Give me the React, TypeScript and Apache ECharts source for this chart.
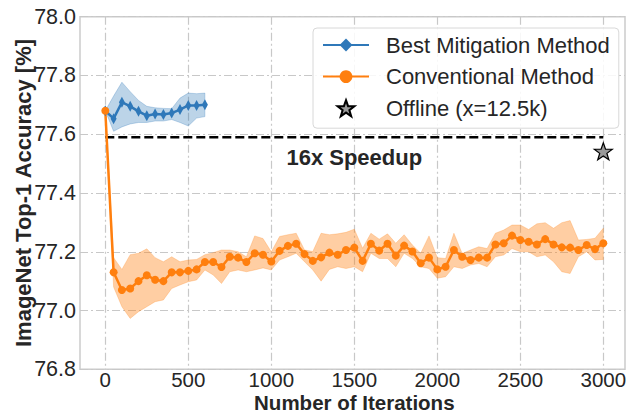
import React, { useEffect, useRef } from "react";
import * as echarts from "echarts";

const iters = [
  0, 50, 100, 150, 200, 250, 300, 350, 400, 450, 500, 550, 600, 650, 700, 750, 800, 850, 900, 950,
  1000, 1050, 1100, 1150, 1200, 1250, 1300, 1350, 1400, 1450, 1500, 1550, 1600, 1650, 1700, 1750,
  1800, 1850, 1900, 1950, 2000, 2050, 2100, 2150, 2200, 2250, 2300, 2350, 2400, 2450, 2500, 2550,
  2600, 2650, 2700, 2750, 2800, 2850, 2900, 2950, 3000,
];

const convMean = [
  77.68, 77.13, 77.07, 77.075, 77.1, 77.12, 77.105, 77.1, 77.13, 77.13, 77.135, 77.14, 77.165,
  77.165, 77.148, 77.183, 77.18, 77.165, 77.195, 77.19, 77.167, 77.203, 77.22, 77.227, 77.192,
  77.169, 77.181, 77.197, 77.19, 77.206, 77.214, 77.169, 77.227, 77.204, 77.227, 77.187, 77.221,
  77.201, 77.161, 77.18, 77.14, 77.149, 77.206, 77.183, 77.172, 77.18, 77.18, 77.225, 77.229,
  77.255, 77.24, 77.234, 77.225, 77.243, 77.225, 77.215, 77.214, 77.206, 77.223, 77.209, 77.229,
];
const convUpper = [
  77.68, 77.18, 77.14, 77.19, 77.195, 77.21, 77.18, 77.166, 77.183, 77.166, 77.172, 77.174, 77.19,
  77.197, 77.206, 77.206, 77.2, 77.183, 77.254, 77.245, 77.2, 77.252, 77.258, 77.263, 77.206,
  77.201, 77.263, 77.258, 77.261, 77.266, 77.277, 77.212, 77.263, 77.243, 77.261, 77.229, 77.258,
  77.223, 77.195, 77.254, 77.18, 77.177, 77.263, 77.194, 77.206, 77.217, 77.211, 77.263, 77.274,
  77.291, 77.291, 77.276, 77.295, 77.299, 77.28, 77.299, 77.306, 77.24, 77.242, 77.246, 77.28,
];
const convLower = [
  77.68, 77.08, 77.013, 76.973, 76.996, 77.013, 77.03, 77.036, 77.075, 77.087, 77.098, 77.104,
  77.138, 77.121, 77.092, 77.132, 77.138, 77.132, 77.138, 77.145, 77.138, 77.172, 77.183, 77.195,
  77.166, 77.138, 77.1, 77.14, 77.149, 77.143, 77.149, 77.132, 77.195, 77.177, 77.177, 77.149,
  77.195, 77.177, 77.149, 77.143, 77.11, 77.115, 77.149, 77.143, 77.155, 77.16, 77.149, 77.183,
  77.189, 77.211, 77.2, 77.2, 77.183, 77.189, 77.166, 77.132, 77.126, 77.183, 77.2, 77.172, 77.174,
];

const bestIters = [0, 50, 100, 150, 200, 250, 300, 350, 400, 450, 500, 550, 600];
const bestMean = [77.68, 77.653, 77.709, 77.695, 77.678, 77.663, 77.669, 77.667, 77.672, 77.684, 77.698, 77.698, 77.7];
const bestUpper = [77.68, 77.73, 77.777, 77.745, 77.715, 77.695, 77.69, 77.688, 77.687, 77.723, 77.74, 77.738, 77.74];
const bestLower = [77.68, 77.61, 77.625, 77.635, 77.64, 77.64, 77.645, 77.645, 77.65, 77.64, 77.628, 77.655, 77.66];

const offlinePoint = [3000, 77.542];
const speedupLine = [[0, 77.59], [3000, 77.59]];
const speedupLabel = [1500, 77.522];
const speedupText = "16x Speedup";

const xTickMin = 0;
const xTickMax = 3000;
const xTickStep = 500;
const yMin = 76.8;
const yMax = 78.0;
const yStep = 0.2;

const seriesNames = ["Best Mitigation Method", "Conventional Method", "Offline (x=12.5k)"];
const xTitle = "Number of Iterations";
const yTitle = "ImageNet Top-1 Accuracy [%]";

const BLUE = "#2f78b9";
const ORANGE = "#ff7f0e";
const FONT = "'Liberation Sans', Arial, sans-serif";
const TEXT = "#262626";
const GRIDC = "#c8c8c8";
const STAR = "path://M0,-10 L2.35,-3.24 L9.51,-3.09 L3.8,1.24 L5.88,8.09 L0,4 L-5.88,8.09 L-3.8,1.24 L-9.51,-3.09 L-2.35,-3.24 Z";
const DIAMOND = "path://M0,-10 L4.5,0 L0,10 L-4.5,0 Z";

function bandSeries(xs: number[], lo: number[], hi: number[], fill: string, stroke: string) {
  return {
    type: "custom",
    xAxisIndex: 1,
    yAxisIndex: 1,
    clip: false,
    silent: true,
    data: xs.map((x, i) => [x, lo[i], hi[i]]),
    encode: { x: 0, y: [1, 2] },
    renderItem: (params: any, api: any) => {
      if (params.dataIndex !== 0) return null;
      const pts: number[][] = [];
      for (let i = 0; i < xs.length; i++) pts.push(api.coord([xs[i], hi[i]]));
      for (let i = xs.length - 1; i >= 0; i--) pts.push(api.coord([xs[i], lo[i]]));
      return {
        type: "polygon",
        shape: { points: pts },
        style: { fill, stroke, lineWidth: 0.8 },
      };
    },
  };
}

export default function App() {
  const ref = useRef<HTMLDivElement>(null);
  useEffect(() => {
    if (!ref.current) return;
    const chart = echarts.init(ref.current, undefined, { renderer: "svg" });
    const splitStyle = { color: GRIDC, width: 1.2, type: [8, 3, 2, 3] };
    chart.setOption({
      animation: false,
      backgroundColor: "#ffffff",
      textStyle: { fontFamily: FONT },
      grid: [
        {
          left: 80, top: 16.7, width: 545, height: 352.6, show: true,
          borderColor: "#cccccc", borderWidth: 1.5, backgroundColor: "transparent",
          containLabel: false, outerBoundsMode: "none",
        },
        { left: 105.3, top: 16.7, width: 498, height: 352.6, show: false, containLabel: false, outerBoundsMode: "none" },
      ],
      xAxis: [
        { gridIndex: 0, type: "value", min: 0, max: 1, show: false },
        {
          gridIndex: 1,
          type: "value",
          min: xTickMin,
          max: xTickMax,
          interval: xTickStep,
          axisLine: { show: false },
          axisTick: { show: false },
          axisLabel: { fontSize: 20.5, lineHeight: 20, color: TEXT, fontFamily: FONT, margin: 0, formatter: (v: number) => String(v) },
          splitLine: { show: true, lineStyle: splitStyle },
          name: xTitle,
          nameLocation: "middle",
          nameGap: 25.1,
          nameMoveOverlap: false,
          nameTextStyle: { fontSize: 20.5, lineHeight: 16, fontWeight: "bold", color: TEXT, fontFamily: FONT },
        },
      ],
      yAxis: [
        {
          gridIndex: 0,
          type: "value",
          min: yMin,
          max: yMax,
          interval: yStep,
          axisLine: { show: false },
          axisTick: { show: false },
          axisLabel: { fontSize: 21.5, color: TEXT, fontFamily: FONT, margin: 4, formatter: (v: number) => v.toFixed(1) },
          splitLine: { show: true, lineStyle: splitStyle },
          name: yTitle,
          nameLocation: "middle",
          nameGap: 46,
          nameMoveOverlap: false,
          nameTextStyle: { fontSize: 22, fontWeight: "bold", color: TEXT, fontFamily: FONT },
        },
        { gridIndex: 1, type: "value", min: yMin, max: yMax, show: false },
      ],
      legend: {
        data: seriesNames,
        orient: "vertical",
        left: 313,
        top: 28,
        padding: [5, 9, 8, 9],
        itemWidth: 46,
        itemHeight: 16,
        itemGap: 7.6,
        backgroundColor: "rgba(255,255,255,0.85)",
        borderColor: "#d8d8d8",
        borderWidth: 1,
        borderRadius: 4,
        textStyle: { fontSize: 22, color: TEXT, fontFamily: FONT, lineHeight: 24, padding: [0, 0, 0, 12] },
      },
      series: [
        bandSeries(bestIters, bestLower, bestUpper, "rgba(47,120,185,0.32)", "rgba(47,120,185,0.35)"),
        bandSeries(iters, convLower, convUpper, "rgba(255,127,14,0.38)", "rgba(255,127,14,0.3)"),
        {
          type: "line",
          xAxisIndex: 1,
          yAxisIndex: 1,
          data: speedupLine,
          symbol: "none",
          silent: true,
          clip: false,
          lineStyle: { color: "#000000", width: 2.5, type: [9, 4] },
        },
        {
          name: seriesNames[0],
          type: "line",
          xAxisIndex: 1,
          yAxisIndex: 1,
          data: bestIters.map((x, i) => [x, bestMean[i]]),
          symbol: DIAMOND,
          symbolSize: [6, 11],
          showSymbol: true,
          clip: false,
          color: BLUE,
          itemStyle: { color: BLUE },
          lineStyle: { color: BLUE, width: 2.5 },
        },
        {
          name: seriesNames[1],
          type: "line",
          xAxisIndex: 1,
          yAxisIndex: 1,
          data: iters.map((x, i) => [x, convMean[i]]),
          symbol: "circle",
          symbolSize: 8,
          showSymbol: true,
          clip: false,
          color: ORANGE,
          itemStyle: { color: ORANGE },
          lineStyle: { color: ORANGE, width: 2.5 },
        },
        {
          name: seriesNames[2],
          type: "scatter",
          xAxisIndex: 1,
          yAxisIndex: 1,
          data: [offlinePoint],
          symbol: STAR,
          symbolSize: [18, 17],
          clip: false,
          itemStyle: { color: "#9a9a9a", borderColor: "#000000", borderWidth: 1.2, opacity: 1 },
        },
        {
          type: "scatter",
          xAxisIndex: 1,
          yAxisIndex: 1,
          data: [speedupLabel],
          symbolSize: 0,
          silent: true,
          itemStyle: { opacity: 1 },
          label: {
            show: true,
            position: "inside",
            formatter: () => speedupText,
            fontSize: 22,
            fontWeight: "bold",
            color: TEXT,
            opacity: 1,
            textBorderWidth: 0,
            fontFamily: FONT,
          },
        },
      ],
    });
    return () => chart.dispose();
  }, []);
  return <div ref={ref} style={{ position: "fixed", left: 0, top: 0, width: 628, height: 414 }} />;
}
